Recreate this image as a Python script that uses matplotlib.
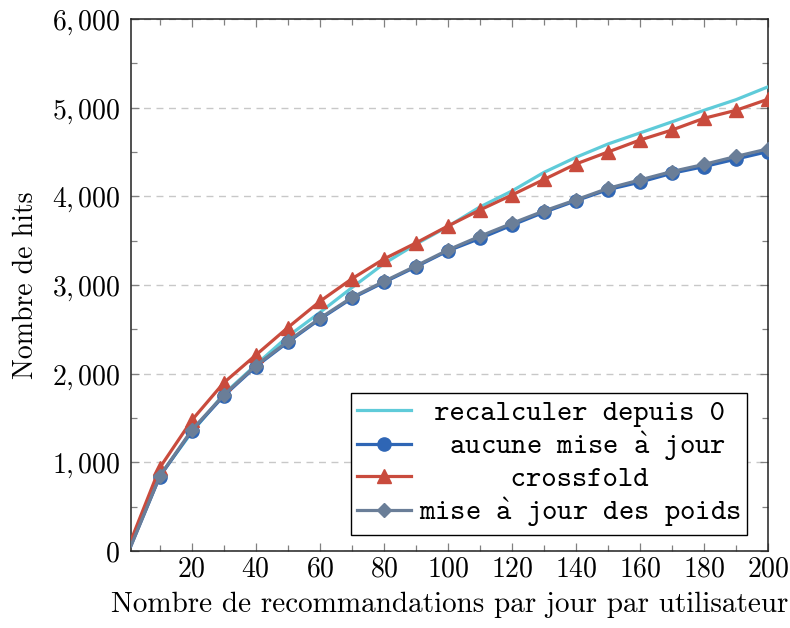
import numpy as np
import matplotlib
matplotlib.use('Agg')
import matplotlib.pyplot as plt
from matplotlib.ticker import MultipleLocator, FuncFormatter

plt.rcParams['font.family'] = ['cmr10', 'DejaVu Serif']
plt.rcParams['axes.formatter.use_mathtext'] = True
plt.rcParams['mathtext.fontset'] = 'cm'

# recommendations per day per user
reco = [1, 10, 20, 30, 40, 50, 60, 70, 80, 90, 100,
        110, 120, 130, 140, 150, 160, 170, 180, 190, 200]

# number of hits for each update strategy
hits_recompute = [80, 850, 1340, 1770, 2100, 2420, 2690, 2970, 3240, 3460, 3660,
                  3880, 4060, 4270, 4440, 4590, 4715, 4840, 4970, 5090, 5235]
hits_no_update = [60, 840, 1355, 1750, 2080, 2355, 2615, 2850, 3030, 3205, 3385,
                  3525, 3675, 3820, 3950, 4075, 4160, 4260, 4335, 4420, 4505]
hits_crossfold = [120, 940, 1475, 1898, 2210, 2520, 2815, 3070, 3293, 3474, 3665,
                  3846, 4015, 4190, 4365, 4500, 4635, 4748, 4880, 4970, 5095]
hits_weights = [60, 845, 1365, 1760, 2090, 2365, 2625, 2860, 3040, 3215, 3395,
                3550, 3695, 3835, 3960, 4090, 4185, 4280, 4360, 4450, 4535]

# typewriter labels, the accent is built in mathtext so it stays in cmtt
a_grave = r'$\mathtt{\grave{a}}$'
labels = [' recalculer depuis 0',
          '  aucune mise ' + a_grave + ' jour',
          '      crossfold',
          'mise ' + a_grave + ' jour des poids']

c_cyan = '#5fcbd9'
c_blue = '#2f66b5'
c_red = '#c94b3d'
c_grey = '#6a7e98'


def thousands(v, pos):
    # 6,000 style with a thin gap after the comma
    return '$' + f'{int(v):,}'.replace(',', r'{,}\,') + '$'


fig = plt.figure(figsize=(7.9, 6.28), dpi=100)
ax = fig.add_axes([131 / 790, 77 / 628, 637 / 790, 532 / 628])

lw = 2.3
mk = slice(1, None)
ax.plot(reco, hits_recompute, color=c_cyan, lw=lw, label=labels[0], zorder=3)
ax.plot(reco, hits_no_update, color=c_blue, lw=lw, marker='o', ms=9.5,
        markevery=mk, label=labels[1], zorder=3)
ax.plot(reco, hits_crossfold, color=c_red, lw=lw, marker='^', ms=10.5,
        markevery=mk, label=labels[2], zorder=3)
ax.plot(reco, hits_weights, color=c_grey, lw=lw, marker='D', ms=7.5,
        markevery=mk, label=labels[3], zorder=3)

ax.set_xlim(1, 200)
ax.set_ylim(0, 6000)
ax.xaxis.set_major_locator(MultipleLocator(20))
ax.xaxis.set_minor_locator(MultipleLocator(10))
ax.yaxis.set_major_locator(MultipleLocator(1000))
ax.yaxis.set_minor_locator(MultipleLocator(500))
ax.yaxis.set_major_formatter(FuncFormatter(thousands))
ax.xaxis.set_major_formatter(FuncFormatter(lambda v, p: f'${int(v)}$'))

ax.tick_params(which='both', direction='in', top=True, right=True,
               color='#808080', width=0.9, labelsize=20)
ax.tick_params(which='major', length=6)
ax.tick_params(which='minor', length=4.5)
ax.tick_params(axis='x', which='major', pad=4)
ax.tick_params(axis='y', which='major', pad=8)

ax.grid(axis='y', which='major', color='#c8c8c8', linestyle=(0, (5, 4)), lw=1.0, zorder=0)
for s in ax.spines.values():
    s.set_linewidth(1.1)
    s.set_color('#202020')

ax.set_xlabel('Nombre de recommandations par jour par utilisateur', fontsize=21, labelpad=6)
ax.set_ylabel('Nombre de hits', fontsize=20, labelpad=9)

leg = ax.legend(loc='lower right', bbox_to_anchor=(0.967, 0.03), borderaxespad=0,
                prop={'family': ['cmtt10', 'DejaVu Sans Mono'], 'size': 21},
                fancybox=False, framealpha=1, edgecolor='black',
                handlelength=1.85, handletextpad=0.3, labelspacing=0.1,
                borderpad=0.2)
leg.get_frame().set_linewidth(1.0)

fig.savefig('out.png', dpi=100)
